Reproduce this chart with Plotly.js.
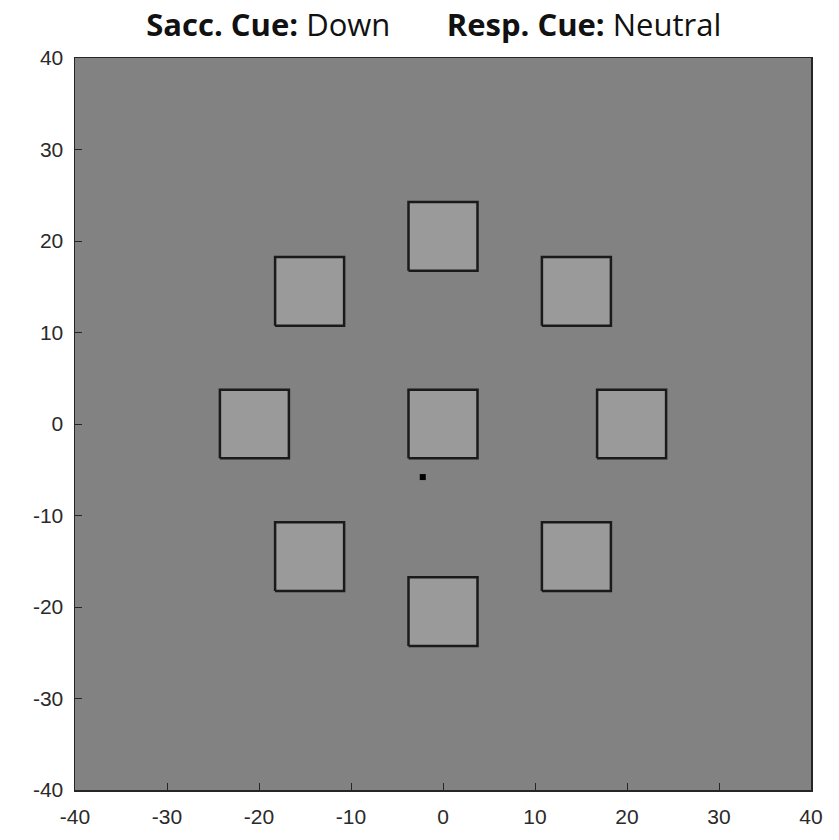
<!DOCTYPE html>
<html>
<head>
<meta charset="utf-8">
<script src="https://cdn.plot.ly/plotly-3.0.1.min.js"></script>
<style>html,body{margin:0;padding:0;background:#fff;}#chart{width:839px;height:840px;}</style>
</head>
<body>
<div id="chart"></div>
<script>
// Placeholder square centres (deg)
const squareX = [0, 14.5, 20.5, 14.5, 0, -14.5, -20.5, -14.5, 0];
const squareY = [20.5, 14.5, 0, -14.5, -20.5, -14.5, 0, 14.5, 0];
const squareHalf = 3.75;
// Gaze sample
const dotX = [-2.2];
const dotY = [-5.8];
const tickVals = [-40, -30, -20, -10, 0, 10, 20, 30, 40];

const traces = [];
for (let i = 0; i < squareX.length; i++) {
  const cx = squareX[i], cy = squareY[i], h = squareHalf;
  traces.push({
    type: 'scatter', mode: 'lines',
    x: [cx - h, cx + h, cx + h, cx - h, cx - h],
    y: [cy - h, cy - h, cy + h, cy + h, cy - h],
    fill: 'toself', fillcolor: '#9a9a9a',
    line: {color: '#1a1a1a', width: 2.5},
    hoverinfo: 'skip', showlegend: false
  });
}
traces.push({
  type: 'scatter', mode: 'markers', x: dotX, y: dotY,
  marker: {symbol: 'square', size: 6, color: '#000'},
  showlegend: false
});

const tickFont = {family: 'Liberation Sans, Arial, sans-serif', size: 21, color: '#2a2a2a'};
const layout = {
  width: 839, height: 840,
  margin: {l: 75, r: 28, t: 58, b: 50},
  paper_bgcolor: '#ffffff',
  plot_bgcolor: '#828282',
  title: {
    text: '<b>Sacc. Cue:</b> Down       <b>Resp. Cue:</b> Neutral',
    font: {family: 'Open Sans, Noto Sans, sans-serif', size: 31, color: '#111'},
    x: 0.517, xanchor: 'center', y: 0.970, yanchor: 'middle'
  },
  xaxis: {
    range: [-40, 40], tickvals: tickVals, ticktext: tickVals.map(String),
    showgrid: false, zeroline: false,
    showline: true, linecolor: '#262626', linewidth: 1.5, mirror: true,
    ticks: 'inside', ticklen: 7, tickcolor: '#262626',
    ticklabelstandoff: 7,
    tickfont: tickFont
  },
  yaxis: {
    range: [-40, 40], tickvals: tickVals, ticktext: tickVals.map(String),
    showgrid: false, zeroline: false,
    showline: true, linecolor: '#262626', linewidth: 1.5, mirror: true,
    ticks: 'inside', ticklen: 7, tickcolor: '#262626',
    ticklabelstandoff: 6,
    tickfont: tickFont
  }
};
Plotly.newPlot('chart', traces, layout, {displayModeBar: false, staticPlot: true});
</script>
</body>
</html>
